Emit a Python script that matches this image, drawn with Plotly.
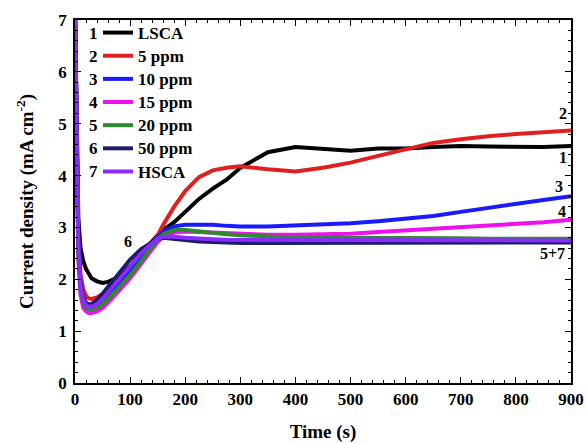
import plotly.graph_objects as go

# ---- data ----
time_s = [0, 3, 6, 10, 15, 20, 25, 30, 40, 50, 60, 80, 100, 120, 140, 150, 160, 180,
          200, 225, 250, 275, 300, 350, 400, 450, 500, 550, 600, 650, 700, 750, 800, 850, 900]

lsca = [7.2, 5.0, 3.2, 2.6, 2.35, 2.2, 2.1, 2.02, 1.96, 1.93, 1.95, 2.05, 2.25, 2.5, 2.75, 2.85, 2.95, 3.1,
        3.3, 3.55, 3.75, 3.92, 4.15, 4.45, 4.55, 4.52, 4.48, 4.52, 4.52, 4.55, 4.57, 4.56, 4.56, 4.55, 4.57]
ppm5 = [7.2, 4.8, 2.8, 2.1, 1.8, 1.68, 1.63, 1.62, 1.65, 1.72, 1.8, 1.98, 2.15, 2.4, 2.68, 2.85, 3.05, 3.4,
        3.7, 3.97, 4.1, 4.15, 4.18, 4.12, 4.08, 4.15, 4.25, 4.38, 4.5, 4.63, 4.7, 4.76, 4.8, 4.83, 4.87]
ppm10 = [7.2, 4.5, 2.6, 1.9, 1.62, 1.52, 1.48, 1.47, 1.5, 1.58, 1.68, 1.9, 2.15, 2.42, 2.7, 2.82, 2.92, 3.02,
         3.05, 3.05, 3.05, 3.03, 3.02, 3.02, 3.04, 3.05, 3.08, 3.12, 3.17, 3.22, 3.3, 3.38, 3.46, 3.53, 3.6]
ppm15 = [7.2, 4.3, 2.4, 1.7, 1.45, 1.38, 1.35, 1.35, 1.38, 1.45, 1.55, 1.78, 2.02, 2.3, 2.6, 2.72, 2.82, 2.9,
         2.92, 2.91, 2.9, 2.89, 2.88, 2.86, 2.86, 2.87, 2.88, 2.91, 2.94, 2.97, 3.0, 3.03, 3.06, 3.1, 3.15]
ppm20 = [7.2, 4.4, 2.5, 1.8, 1.55, 1.45, 1.42, 1.42, 1.45, 1.52, 1.62, 1.85, 2.08, 2.35, 2.65, 2.77, 2.87, 2.95,
         2.95, 2.92, 2.9, 2.87, 2.85, 2.82, 2.8, 2.8, 2.8, 2.8, 2.79, 2.79, 2.79, 2.78, 2.78, 2.78, 2.78]
ppm50 = [7.2, 4.6, 2.7, 1.9, 1.65, 1.55, 1.52, 1.52, 1.6, 1.72, 1.85, 2.12, 2.38, 2.58, 2.72, 2.78, 2.8, 2.78,
         2.75, 2.73, 2.72, 2.71, 2.7, 2.7, 2.7, 2.7, 2.7, 2.7, 2.7, 2.7, 2.7, 2.7, 2.7, 2.71, 2.71]
hsca = [7.2, 4.5, 2.65, 1.85, 1.6, 1.5, 1.47, 1.47, 1.52, 1.62, 1.75, 2.0, 2.25, 2.5, 2.7, 2.78, 2.82, 2.82,
        2.8, 2.78, 2.77, 2.76, 2.76, 2.75, 2.75, 2.75, 2.75, 2.75, 2.75, 2.75, 2.75, 2.75, 2.75, 2.75, 2.75]

series_names = ["LSCA", "5 ppm", "10 ppm", "15 ppm", "20 ppm", "50 ppm", "HSCA"]
series_values = [lsca, ppm5, ppm10, ppm15, ppm20, ppm50, hsca]
series_colors = ["#000000", "#e02020", "#1a1aff", "#ee10ee", "#2e8a2e", "#1c1c6a", "#8a2cff"]

x_ticks = [0, 100, 200, 300, 400, 500, 600, 700, 800, 900]
y_ticks = [0, 1, 2, 3, 4, 5, 6, 7]

# end-of-curve labels: (text, time, value)
curve_labels = [("2", 886, 5.2), ("1", 886, 4.35), ("3", 878, 3.78),
                ("4", 884, 3.3), ("5+7", 866, 2.5), ("6", 96, 2.72)]

FONT = "Liberation Serif"
W, H = 587, 443
L, R, T, B = 75, 16, 20, 60
PW = W - L - R
PH = H - T - B

fig = go.Figure()
for name, vals, col in zip(series_names, series_values, series_colors):
    fig.add_trace(go.Scatter(x=time_s, y=vals, mode="lines",
                             name="<span style='font-size:17px'>%s</span>" % name,
                             line=dict(color=col, width=4)))

for txt, tx, ty in curve_labels:
    fig.add_annotation(x=tx, y=ty, text="<b>%s</b>" % txt, showarrow=False,
                       xanchor="center", yanchor="middle",
                       font=dict(family=FONT, size=16, color="black"))

# legend numbers (row centres in pixels)
for i in range(7):
    py = 33 + i * 23.15
    fig.add_annotation(xref="paper", yref="paper",
                       x=(93 - L) / float(PW), y=((T + PH) - py) / float(PH),
                       xanchor="center", yanchor="middle",
                       text="<b>%d</b>" % (i + 1), showarrow=False,
                       font=dict(family=FONT, size=17, color="black"))

axis_common = dict(showline=True, linecolor="black", linewidth=1.5, mirror="ticks",
                   ticks="inside", ticklen=6, tickwidth=1.2, tickcolor="black",
                   showgrid=False, zeroline=False, automargin=False,
                   tickfont=dict(family=FONT, size=17, color="black", weight="bold"))

fig.update_layout(
    width=W, height=H,
    margin=dict(l=L, r=R, t=T, b=B),
    paper_bgcolor="white", plot_bgcolor="white",
    showlegend=True,
    legend=dict(x=(98 - L) / float(PW), y=1.0 + 4.0 / PH, xanchor="left", yanchor="top",
                bgcolor="rgba(0,0,0,0)", borderwidth=0,
                font=dict(family=FONT, size=15.5, color="black", weight="bold"),
                tracegroupgap=0),
    xaxis=dict(range=[0, 900], tickvals=x_ticks,
               minor=dict(ticks="inside", dtick=20, ticklen=3, tickcolor="black"),
               title=dict(text="<b>Time (s)</b>", font=dict(family=FONT, size=19, color="black"),
                          standoff=18),
               **axis_common),
    yaxis=dict(range=[0, 7], tickvals=y_ticks, ticklabelstandoff=3,
               minor=dict(ticks="inside", dtick=0.2, ticklen=3, tickcolor="black"),
               title=dict(text="<b>Current density (mA cm<sup>-2</sup>)</b>",
                          font=dict(family=FONT, size=19, color="black"), standoff=20),
               **axis_common),
)

# remove the default 8px page margin so the figure fills the window exactly
fig.write_html("out.html", config={"displayModeBar": False},
               post_script="document.body.style.margin='0';document.body.style.overflow='hidden';")
